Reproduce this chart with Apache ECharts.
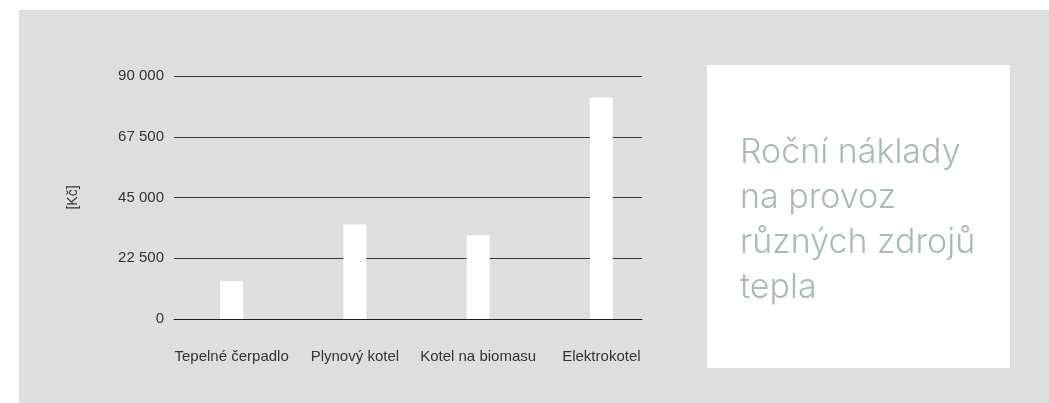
<!DOCTYPE html>
<html>
<head>
<meta charset="utf-8">
<script src="https://cdn.jsdelivr.net/npm/echarts@6/dist/echarts.min.js"></script>
<style>
html,body{margin:0;padding:0;background:#fff;}
#chart{width:1049px;height:403px;}
</style>
</head>
<body>
<div id="chart"></div>
<script>
const categories = ['Tepelné čerpadlo', 'Plynový kotel', 'Kotel na biomasu', 'Elektrokotel'];
const costs = [14000, 35000, 31000, 82000];
const yTicks = [0, 22500, 45000, 67500, 90000];
const yUnit = '[Kč]';
const titleLines = ['Roční náklady', 'na provoz', 'různých zdrojů', 'tepla'];

const fmt = v => String(v).replace(/\B(?=(\d{3})+(?!\d))/g, ' ');
const FONT = '"Liberation Sans", Arial, sans-serif';
const TFONT = 'Inter, Roboto, sans-serif';

const chart = echarts.init(document.getElementById('chart'), null, {renderer: 'canvas'});
chart.setOption({
  animation: false,
  backgroundColor: '#ffffff',
  graphic: [
    {type: 'rect', z: -10, shape: {x: 19, y: 10, width: 1030, height: 393}, style: {fill: '#dedede'}},
    {type: 'rect', z: -9, shape: {x: 707, y: 65, width: 303, height: 303}, style: {fill: '#ffffff'}},
    {type: 'text', left: 740, top: 130, z: 10,
      style: {text: titleLines.join('\n'), fill: '#a6bcb8', font: '300 34px ' + TFONT, lineHeight: 45}}
  ],
  grid: [
    {left: 174, top: 76, width: 468, height: 243},
    {left: 170, top: 76, width: 493, height: 243}
  ],
  xAxis: [
    {gridIndex: 0, type: 'category', data: categories, z: 5,
      axisLine: {show: true, lineStyle: {color: '#1e1e1e', width: 1}},
      axisTick: {show: false}, axisLabel: {show: false}, splitLine: {show: false}},
    {gridIndex: 1, type: 'category', data: categories,
      axisLine: {show: false}, axisTick: {show: false},
      axisLabel: {margin: 30, color: '#333', fontFamily: FONT, fontSize: 15, interval: 0}}
  ],
  yAxis: [
    {gridIndex: 0, type: 'value', min: yTicks[0], max: yTicks[yTicks.length - 1], interval: yTicks[1] - yTicks[0],
      name: yUnit, nameLocation: 'middle', nameGap: 94, nameRotate: 90,
      nameTextStyle: {color: '#333', fontFamily: FONT, fontSize: 14},
      axisLine: {show: false}, axisTick: {show: false},
      axisLabel: {margin: 10, color: '#333', fontFamily: FONT, fontSize: 15, formatter: fmt, padding: [0, 0, 6, 0]},
      splitLine: {show: true, lineStyle: {color: '#3a3a3a', width: 1}}},
    {gridIndex: 1, type: 'value', min: yTicks[0], max: yTicks[yTicks.length - 1], show: false,
      splitLine: {show: false}}
  ],
  series: [
    {type: 'bar', xAxisIndex: 1, yAxisIndex: 1, data: costs, barWidth: 23,
      itemStyle: {color: '#ffffff'}, silent: true}
  ]
});
</script>
</body>
</html>
